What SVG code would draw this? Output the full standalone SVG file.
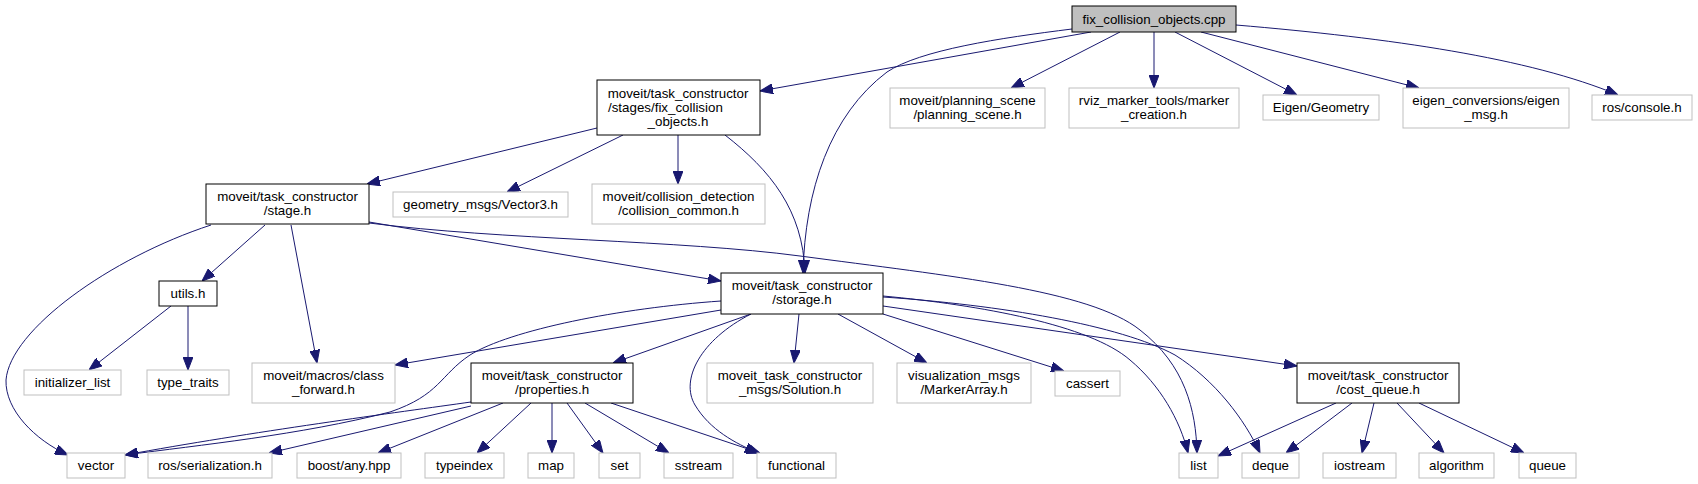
<svg xmlns="http://www.w3.org/2000/svg" width="1698" height="484" viewBox="0 0 1698 484">
<style>
text{font-family:"Liberation Sans",Arial,sans-serif;font-size:13.33px;fill:#000;text-anchor:middle}
.n rect{fill:#fff;stroke:#bfbfbf;stroke-width:1}
.d rect{fill:#fff;stroke:#000;stroke-width:1}
.r rect{fill:#bfbfbf;stroke:#000;stroke-width:1}
.e path{fill:none;stroke:#191970;stroke-width:1;marker-end:url(#ah)}
</style>
<defs>
<marker id="ah" markerUnits="userSpaceOnUse" viewBox="0 0 13 10" refX="13" refY="5" markerWidth="13" markerHeight="10" orient="auto">
<path d="M0,0 L13,5 L0,10 z" fill="#191970" stroke="#191970"/>
</marker>
</defs>
<rect width="1698" height="484" fill="#fff"/>
<g id="edges" class="e">
<path d="M1091,32 L760,91"/>
<path d="M1072,29 C1000,38 920,50 887,72 C830,115 805,190 803,273"/>
<path d="M1120,32 L1011,88"/>
<path d="M1154,32 L1154,88"/>
<path d="M1175,32 L1297,95"/>
<path d="M1201,32 L1419,88"/>
<path d="M1236,25 C1390,38 1530,58 1618,95"/>
<path d="M597,128 L367,184"/>
<path d="M623,135 L507,192"/>
<path d="M678,135 L678,184"/>
<path d="M725,135 C770,170 803,210 805,273"/>
<path d="M211,225 C110,258 10,330 6,380 C5,410 35,440 68,455"/>
<path d="M265,225 L202,281"/>
<path d="M291,225 L317,363"/>
<path d="M369,222 L721,281"/>
<path d="M369,223 C500,240 680,240 800,256 C950,276 1090,290 1140,330 C1185,365 1196,410 1197,453"/>
<path d="M171,306 L89,370"/>
<path d="M188,306 L188,370"/>
<path d="M721,310 L395,365"/>
<path d="M721,301 C620,308 510,330 470,355 C440,375 440,395 390,412 C300,435 200,445 125,455"/>
<path d="M751,314 L613,363"/>
<path d="M751,314 C700,340 680,380 695,405 C710,430 735,443 758,453"/>
<path d="M799,314 L794,363"/>
<path d="M838,314 L927,363"/>
<path d="M883,314 L1064,371"/>
<path d="M883,296 C980,305 1090,325 1130,360 C1160,385 1180,420 1188,453"/>
<path d="M883,297 C1000,305 1120,325 1175,355 C1215,380 1245,420 1260,453"/>
<path d="M883,306 L1297,366"/>
<path d="M471,402 C400,412 250,432 125,455"/>
<path d="M471,406 L269,453"/>
<path d="M503,403 L378,453"/>
<path d="M531,403 L477,453"/>
<path d="M552,403 L552,453"/>
<path d="M567,403 L603,453"/>
<path d="M585,403 L669,453"/>
<path d="M611,403 L760,453"/>
<path d="M1336,403 L1218,456"/>
<path d="M1352,403 L1286,453"/>
<path d="M1374,403 L1362,453"/>
<path d="M1397,403 L1444,453"/>
<path d="M1419,403 L1524,453"/>
</g>
<g id="n_cpp" class="r"><rect x="1072" y="6" width="164" height="26"/><text x="1154" y="23.5">fix_collision_objects.cpp</text></g>
<g id="n_fixh" class="d"><rect x="597" y="80" width="163" height="55"/><text x="678" y="97.5">moveit/task_constructor</text><text x="608" y="111.5" style="text-anchor:start">/stages/fix_collision</text><text x="678" y="125.5">_objects.h</text></g>
<g id="n_planning" class="n"><rect x="890" y="88" width="155" height="40"/><text x="967.5" y="104.5">moveit/planning_scene</text><text x="967.5" y="118.5">/planning_scene.h</text></g>
<g id="n_rviz" class="n"><rect x="1069" y="88" width="170" height="40"/><text x="1154" y="104.5">rviz_marker_tools/marker</text><text x="1154" y="118.5">_creation.h</text></g>
<g id="n_eigen" class="n"><rect x="1263" y="95" width="116" height="25"/><text x="1321" y="112">Eigen/Geometry</text></g>
<g id="n_eigenmsg" class="n"><rect x="1403" y="88" width="166" height="40"/><text x="1486" y="104.5">eigen_conversions/eigen</text><text x="1486" y="118.5">_msg.h</text></g>
<g id="n_console" class="n"><rect x="1592" y="95" width="100" height="25"/><text x="1642" y="112">ros/console.h</text></g>
<g id="n_stage" class="d"><rect x="206" y="184" width="163" height="40"/><text x="287.5" y="200.5">moveit/task_constructor</text><text x="287.5" y="214.5">/stage.h</text></g>
<g id="n_vector3" class="n"><rect x="393" y="192" width="175" height="25"/><text x="480.5" y="209">geometry_msgs/Vector3.h</text></g>
<g id="n_collision" class="n"><rect x="592" y="184" width="173" height="40"/><text x="678.5" y="200.5">moveit/collision_detection</text><text x="678.5" y="214.5">/collision_common.h</text></g>
<g id="n_utils" class="d"><rect x="159" y="281" width="58" height="25"/><text x="188" y="298">utils.h</text></g>
<g id="n_storage" class="d"><rect x="721" y="273" width="162" height="41"/><text x="802" y="290">moveit/task_constructor</text><text x="802" y="304">/storage.h</text></g>
<g id="n_initlist" class="n"><rect x="24" y="370" width="97" height="25"/><text x="72.5" y="387">initializer_list</text></g>
<g id="n_typetraits" class="n"><rect x="147" y="370" width="82" height="25"/><text x="188" y="387">type_traits</text></g>
<g id="n_classfwd" class="n"><rect x="252" y="363" width="143" height="40"/><text x="323.5" y="379.5">moveit/macros/class</text><text x="323.5" y="393.5">_forward.h</text></g>
<g id="n_properties" class="d"><rect x="471" y="363" width="162" height="40"/><text x="552" y="379.5">moveit/task_constructor</text><text x="552" y="393.5">/properties.h</text></g>
<g id="n_solution" class="n"><rect x="707" y="363" width="166" height="40"/><text x="790" y="379.5">moveit_task_constructor</text><text x="790" y="393.5">_msgs/Solution.h</text></g>
<g id="n_marker" class="n"><rect x="897" y="363" width="134" height="40"/><text x="964" y="379.5">visualization_msgs</text><text x="964" y="393.5">/MarkerArray.h</text></g>
<g id="n_cassert" class="n"><rect x="1055" y="371" width="65" height="25"/><text x="1087.5" y="388">cassert</text></g>
<g id="n_costqueue" class="d"><rect x="1297" y="363" width="162" height="40"/><text x="1378" y="379.5">moveit/task_constructor</text><text x="1378" y="393.5">/cost_queue.h</text></g>
<g id="n_vector" class="n"><rect x="67" y="453" width="58" height="25"/><text x="96" y="470">vector</text></g>
<g id="n_serial" class="n"><rect x="148" y="453" width="124" height="25"/><text x="210" y="470">ros/serialization.h</text></g>
<g id="n_any" class="n"><rect x="297" y="453" width="104" height="25"/><text x="349" y="470">boost/any.hpp</text></g>
<g id="n_typeindex" class="n"><rect x="425" y="453" width="79" height="25"/><text x="464.5" y="470">typeindex</text></g>
<g id="n_map" class="n"><rect x="528" y="453" width="46" height="25"/><text x="551" y="470">map</text></g>
<g id="n_set" class="n"><rect x="599" y="453" width="41" height="25"/><text x="619.5" y="470">set</text></g>
<g id="n_sstream" class="n"><rect x="664" y="453" width="69" height="25"/><text x="698.5" y="470">sstream</text></g>
<g id="n_functional" class="n"><rect x="757" y="453" width="79" height="25"/><text x="796.5" y="470">functional</text></g>
<g id="n_list" class="n"><rect x="1179" y="453" width="39" height="25"/><text x="1198.5" y="470">list</text></g>
<g id="n_deque" class="n"><rect x="1242" y="453" width="57" height="25"/><text x="1270.5" y="470">deque</text></g>
<g id="n_iostream" class="n"><rect x="1323" y="453" width="73" height="25"/><text x="1359.5" y="470">iostream</text></g>
<g id="n_algorithm" class="n"><rect x="1419" y="453" width="75" height="25"/><text x="1456.5" y="470">algorithm</text></g>
<g id="n_queue" class="n"><rect x="1519" y="453" width="57" height="25"/><text x="1547.5" y="470">queue</text></g>
</svg>
